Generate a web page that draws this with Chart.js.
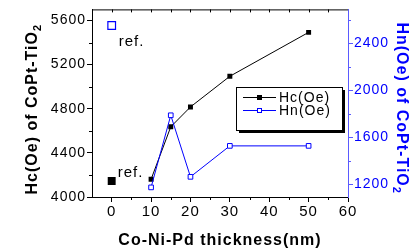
<!DOCTYPE html>
<html>
<head>
<meta charset="utf-8">
<script src="https://cdn.jsdelivr.net/npm/chart.js@4"></script>
<style>
  html, body { margin: 0; padding: 0; background: #fff; }
  #wrap { width: 417px; height: 250px; }
</style>
</head>
<body>
<div id="wrap"><canvas id="myChart" width="417" height="250"></canvas></div>
<script>
// Data
const thickness = [10, 15, 20, 30, 50];          // Co-Ni-Pd thickness (nm)
const hcValues = [4160, 4636, 4816, 5094, 5492];  // Hc(Oe), left axis
const hnValues = [1172, 1787, 1262, 1526, 1526];  // Hn(Oe), right axis
const refThickness = [0];
const hcRef = [4145];
const hnRef = [2553];

// Axis ticks
const xTicks = [0, 10, 20, 30, 40, 50, 60];
const hcTicks = [4000, 4400, 4800, 5200, 5600];
const hnTicks = [1200, 1600, 2000, 2400];

const BLUE = '#0000ff';
const AXIS_BLUE = '#5a5aff';
const FONT = '"Liberation Sans", Arial, sans-serif';

function pts(xs, ys) {
    return xs.map((x, i) => ({ x: x, y: ys[i] }));
}

const plainLabel = v => String(v);

// Draws minor ticks, the top frame, axis titles, "ref." labels and the boxed legend
const decorations = {
    id: 'decorations',
    beforeDraw(chart) {
        chart.ctx.letterSpacing = '1px';
    },
    afterDraw(chart) {
        const ctx = chart.ctx;
        const area = chart.chartArea;
        const sx = chart.scales.x, sy = chart.scales.y, sy2 = chart.scales.y2;
        ctx.save();
        ctx.letterSpacing = '1px';

        // top frame with inward ticks
        ctx.strokeStyle = '#000';
        ctx.lineWidth = 1;
        ctx.beginPath();
        ctx.moveTo(area.left, area.top + 0.5);
        ctx.lineTo(area.right, area.top + 0.5);
        for (let v = 0; v < 60; v += 5) {
            const px = Math.round(sx.getPixelForValue(v)) + 0.5;
            ctx.moveTo(px, area.top);
            ctx.lineTo(px, area.top + 3);
        }
        ctx.stroke();

        // minor ticks
        ctx.beginPath();
        for (let v = 5; v < 60; v += 10) {
            const px = Math.round(sx.getPixelForValue(v)) + 0.5;
            ctx.moveTo(px, area.bottom);
            ctx.lineTo(px, area.bottom + 3);
        }
        for (let v = 4200; v < 5700; v += 400) {
            const py = Math.round(sy.getPixelForValue(v)) + 0.5;
            ctx.moveTo(area.left, py);
            ctx.lineTo(area.left - 3, py);
        }
        ctx.stroke();
        ctx.strokeStyle = AXIS_BLUE;
        ctx.beginPath();
        for (let v = 1400; v < 2700; v += 400) {
            const py = Math.round(sy2.getPixelForValue(v)) + 0.5;
            ctx.moveTo(area.right, py);
            ctx.lineTo(area.right + 3, py);
        }
        ctx.stroke();

        // axis titles
        ctx.font = 'bold 16px ' + FONT;
        ctx.fillStyle = '#000';
        ctx.textBaseline = 'alphabetic';
        ctx.textAlign = 'left';
        const main1 = 'Hc(Oe) of CoPt-TiO';
        const w1 = ctx.measureText(main1).width;
        ctx.font = 'bold 11px ' + FONT;
        const ws = ctx.measureText('2').width;
        ctx.save();
        ctx.translate(37, (area.top + area.bottom) / 2 + 6);
        ctx.rotate(-Math.PI / 2);
        ctx.font = 'bold 16px ' + FONT;
        const start1 = -(w1 + ws) / 2;
        ctx.fillText(main1, start1, 0);
        ctx.font = 'bold 11px ' + FONT;
        ctx.fillText('2', start1 + w1, 4);
        ctx.restore();

        ctx.fillStyle = BLUE;
        const main2 = 'Hn(Oe) of CoPt-TiO';
        ctx.font = 'bold 16px ' + FONT;
        const w2 = ctx.measureText(main2).width;
        ctx.save();
        ctx.translate(397, (area.top + area.bottom) / 2 + 5);
        ctx.rotate(Math.PI / 2);
        const start2 = -(w2 + ws) / 2;
        ctx.fillText(main2, start2, 0);
        ctx.font = 'bold 11px ' + FONT;
        ctx.fillText('2', start2 + w2, 4);
        ctx.restore();

        ctx.fillStyle = '#000';
        ctx.font = 'bold 16px ' + FONT;
        ctx.textAlign = 'center';
        ctx.fillText('Co-Ni-Pd thickness(nm)', (area.left + area.right) / 2, 245);

        // "ref." labels next to the reference points
        ctx.font = '15px ' + FONT;
        ctx.textAlign = 'left';
        const rx = sx.getPixelForValue(refThickness[0]);
        ctx.fillText('ref.', rx + 7, sy2.getPixelForValue(hnRef[0]) + 21);
        ctx.fillText('ref.', rx + 6, sy.getPixelForValue(hcRef[0]) - 4);

        // legend box with shadow
        const lx = 236, ly = 87, lw = 106, lh = 43;
        ctx.fillStyle = '#000';
        ctx.fillRect(lx + 3, ly + 3, lw, lh);
        ctx.fillStyle = '#fff';
        ctx.fillRect(lx, ly, lw, lh);
        ctx.strokeStyle = '#000';
        ctx.strokeRect(lx + 0.5, ly + 0.5, lw, lh);
        const rows = [
            { label: 'Hc(Oe)', color: '#000', fill: '#000', y: 97 },
            { label: 'Hn(Oe)', color: BLUE, fill: '#fff', y: 110 }
        ];
        ctx.font = '14px ' + FONT;
        ctx.textBaseline = 'middle';
        rows.forEach(r => {
            ctx.strokeStyle = r.color;
            ctx.beginPath();
            ctx.moveTo(243, r.y + 0.5);
            ctx.lineTo(276, r.y + 0.5);
            ctx.stroke();
            ctx.fillStyle = r.fill;
            ctx.fillRect(257, r.y - 2, 5, 5);
            ctx.strokeRect(257.5, r.y - 1.5, 4, 4);
            ctx.fillStyle = '#000';
            ctx.fillText(r.label, 279, r.y + 1);
        });
        ctx.restore();
    }
};

const ctx = document.getElementById('myChart').getContext('2d');
const chart = new Chart(ctx, {
    type: 'scatter',
    data: {
        datasets: [
            {
                label: 'Hn(Oe)',
                data: pts(thickness, hnValues),
                yAxisID: 'y2',
                showLine: true,
                borderColor: BLUE,
                borderWidth: 1,
                pointStyle: 'rect',
                pointRadius: 3.3,
                pointBorderWidth: 1,
                pointBorderColor: BLUE,
                pointBackgroundColor: '#fff'
            },
            {
                label: 'Hc(Oe)',
                data: pts(thickness, hcValues),
                yAxisID: 'y',
                showLine: true,
                borderColor: '#000',
                borderWidth: 1,
                pointStyle: 'rect',
                pointRadius: 3.5,
                pointBorderWidth: 0,
                pointBackgroundColor: '#000'
            },
            {
                label: 'Hc ref',
                data: pts(refThickness, hcRef),
                yAxisID: 'y',
                pointStyle: 'rect',
                pointRadius: 5.6,
                pointBorderWidth: 0,
                pointBackgroundColor: '#000'
            },
            {
                label: 'Hn ref',
                data: pts(refThickness, hnRef),
                yAxisID: 'y2',
                pointStyle: 'rect',
                pointRadius: 5.4,
                pointBorderWidth: 1.2,
                pointBorderColor: BLUE,
                pointBackgroundColor: '#fff'
            }
        ]
    },
    options: {
        responsive: false,
        animation: false,
        layout: { padding: { top: 9, left: 0, right: 0, bottom: 0 } },
        plugins: {
            legend: { display: false },
            tooltip: { enabled: false }
        },
        scales: {
            x: {
                type: 'linear',
                min: -5,
                max: 60,
                afterBuildTicks: s => { s.ticks = xTicks.map(v => ({ value: v })); },
                afterFit: s => { s.height = 53; },
                border: { color: '#000', width: 1 },
                grid: { drawOnChartArea: false, tickLength: 5, tickColor: '#000' },
                ticks: { color: '#000', padding: 1, callback: plainLabel, font: { family: FONT, size: 15 } }
            },
            y: {
                position: 'left',
                min: 4000,
                max: 5700,
                afterBuildTicks: s => { s.ticks = hcTicks.map(v => ({ value: v })); },
                afterFit: s => { s.width = 92; },
                border: { color: '#000', width: 1 },
                grid: { drawOnChartArea: false, tickLength: 5, tickColor: '#000' },
                ticks: { color: '#000', padding: 1, callback: plainLabel, font: { family: FONT, size: 14 } }
            },
            y2: {
                position: 'right',
                min: 1090,
                max: 2690,
                afterBuildTicks: s => { s.ticks = hnTicks.map(v => ({ value: v })); },
                afterFit: s => { s.width = 69; },
                border: { color: AXIS_BLUE, width: 1 },
                grid: { drawOnChartArea: false, tickLength: 5, tickColor: AXIS_BLUE },
                ticks: { color: BLUE, padding: 1, callback: plainLabel, font: { family: FONT, size: 14 } }
            }
        }
    },
    plugins: [decorations]
});
</script>
</body>
</html>
